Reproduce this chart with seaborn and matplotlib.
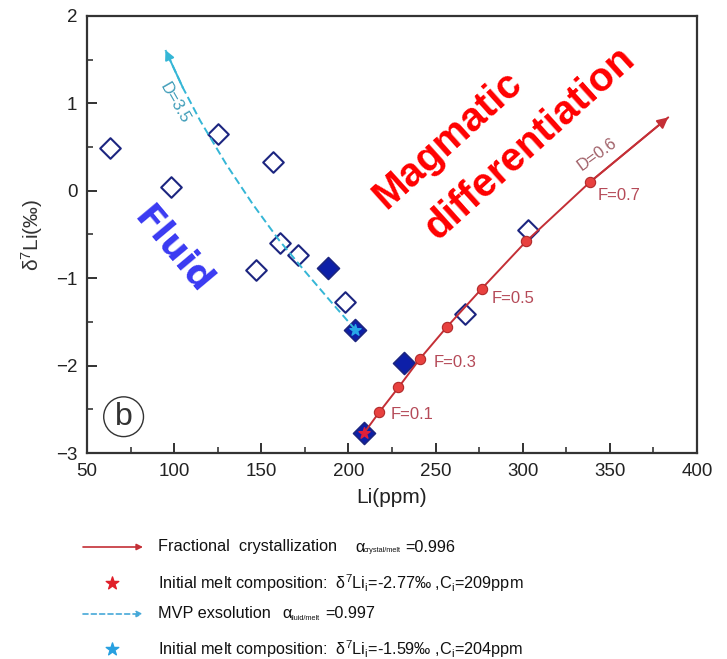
import matplotlib
matplotlib.use("Agg")
import matplotlib.pyplot as plt
import seaborn as sns
import pandas as pd

# ---------------- data ----------------
open_li = [63, 98, 125, 157, 161, 171, 147, 198, 267, 303]
open_d7 = [0.49, 0.04, 0.65, 0.33, -0.60, -0.74, -0.91, -1.27, -1.41, -0.45]
fill_li = [188, 204, 232, 209]
fill_d7 = [-0.88, -1.59, -1.97, -2.77]

# fractional crystallization model (D=0.6), F = 0 ... 0.7 then arrow end
fc_li = [209, 217.8, 228.7, 241.1, 256.4, 276.5, 301.9, 338.6, 383.5]
fc_d7 = [-2.77, -2.53, -2.25, -1.92, -1.56, -1.12, -0.58, 0.10, 0.84]
fc_dot_li = [217.8, 228.7, 241.1, 256.4, 276.5, 301.9, 338.6]
fc_dot_d7 = [-2.53, -2.25, -1.92, -1.56, -1.12, -0.58, 0.10]
f_labels = ["F=0.1", "F=0.3", "F=0.5", "F=0.7"]
f_lab_li = [224, 249, 282, 343]
f_lab_d7 = [-2.56, -1.97, -1.23, -0.05]

# MVP exsolution model (D=3.5)
mvp_li = [204, 190, 175, 160, 145, 130, 115, 105, 95]
mvp_d7 = [-1.59, -1.27, -0.92, -0.56, -0.15, 0.30, 0.80, 1.18, 1.61]

init_fc = (209, -2.77)
init_mvp = (204, -1.59)

x_ticks = [50, 100, 150, 200, 250, 300, 350, 400]
y_ticks = [-3, -2, -1, 0, 1, 2]

# ---------------- style ----------------
sns.set_theme(style="white")
plt.rcParams["font.family"] = ["Liberation Sans", "DejaVu Sans"]
plt.rcParams["mathtext.fontset"] = "custom"
plt.rcParams["mathtext.rm"] = "Liberation Sans"
plt.rcParams["mathtext.it"] = "Liberation Sans:italic"

RED_LINE = "#c42f36"
RED_DOT = "#e8413f"
CYAN = "#35b6d6"
NAVY = "#1c2580"
FILL = "#0d1fa8"
LABEL_RED = "#b54a58"

fig = plt.figure(figsize=(7.27, 6.59), dpi=100)
ax = fig.add_axes([87 / 727, 1 - 453 / 659, 610 / 727, 437 / 659])

df_open = pd.DataFrame({"Li": open_li, "d7": open_d7})
df_fill = pd.DataFrame({"Li": fill_li, "d7": fill_d7})
df_fc = pd.DataFrame({"Li": fc_li, "d7": fc_d7})
df_dots = pd.DataFrame({"Li": fc_dot_li, "d7": fc_dot_d7})
df_mvp = pd.DataFrame({"Li": mvp_li, "d7": mvp_d7})

sns.scatterplot(data=df_open, x="Li", y="d7", marker="D", s=110,
                facecolor="white", edgecolor=NAVY, linewidth=1.5, ax=ax, zorder=3)
sns.scatterplot(data=df_fill, x="Li", y="d7", marker="D", s=125,
                color=FILL, edgecolor=NAVY, linewidth=1.2, ax=ax, zorder=3)

# model lines
sns.lineplot(data=df_fc, x="Li", y="d7", sort=False, color=RED_LINE, lw=1.4,
             ax=ax, zorder=4)
ax.annotate("", xy=(fc_li[-1], fc_d7[-1]), xytext=(fc_li[-2], fc_d7[-2]),
            arrowprops=dict(arrowstyle="-|>", color=RED_LINE, lw=1.4,
                            mutation_scale=16, shrinkA=0, shrinkB=0), zorder=4)
sns.scatterplot(data=df_dots, x="Li", y="d7", s=55, color=RED_DOT,
                edgecolor="#b02a2a", linewidth=0.8, ax=ax, zorder=5)

sns.lineplot(data=df_mvp, x="Li", y="d7", sort=False, color=CYAN, lw=1.4,
             linestyle=(0, (4, 2)), ax=ax, zorder=4)
ax.annotate("", xy=(mvp_li[-1], mvp_d7[-1]), xytext=(mvp_li[-2], mvp_d7[-2]),
            arrowprops=dict(arrowstyle="-|>", color=CYAN, lw=1.4,
                            mutation_scale=14, shrinkA=0, shrinkB=0), zorder=4)

ax.scatter([init_fc[0]], [init_fc[1]], marker="*", s=70, color="#e0203a", zorder=6)
ax.scatter([init_mvp[0]], [init_mvp[1]], marker="*", s=70, color="#28a8e8", zorder=6)

# annotations
for lab, x, y in zip(f_labels, f_lab_li, f_lab_d7):
    ax.text(x, y, lab, color=LABEL_RED, fontsize=12, ha="left", va="center", zorder=6)
ax.text(342.5, 0.42, "D=0.6", color="#a06068", fontsize=12, rotation=36,
        ha="center", va="center", rotation_mode="anchor")
ax.text(100.5, 1.0, "D=3.5", color="#3e9cb8", fontsize=12, rotation=-60,
        ha="center", va="center", rotation_mode="anchor")

ax.text(99.5, -0.68, "Fluid", color="#3a3af2", fontsize=26, fontweight="bold",
        family="DejaVu Sans", rotation=-50, ha="center", va="center",
        rotation_mode="anchor")
ax.text(257, 0.58, "Magmatic", color="#ff0000", fontsize=29, fontweight="bold",
        rotation=42, ha="center", va="center", rotation_mode="anchor")
ax.text(304, 0.55, "differentiation", color="#ff0000", fontsize=29,
        fontweight="bold", rotation=42, ha="center", va="center",
        rotation_mode="anchor")

# circled b
ax.scatter([71], [-2.585], s=820, facecolor="none", edgecolor="#333333",
           linewidth=1.0, zorder=6)
ax.text(71, -2.585, "b", fontsize=23, color="#333333", ha="center",
        va="center", zorder=6)

# axes
ax.set_xlim(50, 400)
ax.set_ylim(-3, 2)
ax.set_xticks(x_ticks)
ax.set_yticks(y_ticks)
ax.set_xticks([75, 125, 175, 225, 275, 325, 375], minor=True)
ax.set_yticks([-2.5, -1.5, -0.5, 0.5, 1.5], minor=True)
ax.tick_params(axis="both", which="major", direction="in", length=7, width=1.3,
               labelsize=13.5, colors="#222222", pad=7, left=True, bottom=True)
ax.tick_params(axis="both", which="minor", direction="in", length=4, width=1.1,
               left=True, bottom=True)
for sp in ax.spines.values():
    sp.set_visible(True)
    sp.set_color("#333333")
    sp.set_linewidth(1.6)
ax.set_xlabel("Li(ppm)", fontsize=15, color="#222222", labelpad=6)
ax.set_ylabel("δ$^7$Li(‰)", fontsize=15, color="#333333", labelpad=8)

# ---------------- legend panel (pixel coordinates) ----------------
lax = fig.add_axes([0, 0, 1, 1], zorder=-1)
lax.set_xlim(0, 727)
lax.set_ylim(659, 0)
lax.axis("off")

lax.annotate("", xy=(143, 547), xytext=(83, 547),
             arrowprops=dict(arrowstyle="-|>", color=RED_LINE, lw=1.2,
                             mutation_scale=9, shrinkA=0, shrinkB=0))
lax.annotate("", xy=(143, 614), xytext=(83, 614),
             arrowprops=dict(arrowstyle="-|>", color="#45a8d8", lw=1.2,
                             linestyle=(0, (3, 2)), mutation_scale=9,
                             shrinkA=0, shrinkB=0))
lax.scatter([112], [583], marker="*", s=90, color="#e0202a")
lax.scatter([112], [649], marker="*", s=90, color="#28a0e0")

fs = 11.7
tc = "#111111"
lax.text(158, 547, "Fractional  crystallization", fontsize=fs, va="center", color=tc)
lax.text(355, 547, "α", fontsize=fs, va="center", color=tc)
lax.text(364, 551, "crystal/melt", fontsize=5.3, va="center", color=tc)
lax.text(405, 547, "=0.996", fontsize=fs, va="center", color=tc)

lax.text(158, 583, "Initial melt composition:  δ$^7$Li$_{\\mathregular{i}}$=-2.77‰ ,C$_{\\mathregular{i}}$=209ppm",
         fontsize=fs, va="center", color=tc)

lax.text(158, 614, "MVP exsolution", fontsize=fs, va="center", color=tc)
lax.text(282, 614, "α", fontsize=fs, va="center", color=tc)
lax.text(291, 618, "fluid/melt", fontsize=5.3, va="center", color=tc)
lax.text(325, 614, "=0.997", fontsize=fs, va="center", color=tc)

lax.text(158, 649, "Initial melt composition:  δ$^7$Li$_{\\mathregular{i}}$=-1.59‰ ,C$_{\\mathregular{i}}$=204ppm",
         fontsize=fs, va="center", color=tc)

fig.savefig("out.png", dpi=100)
